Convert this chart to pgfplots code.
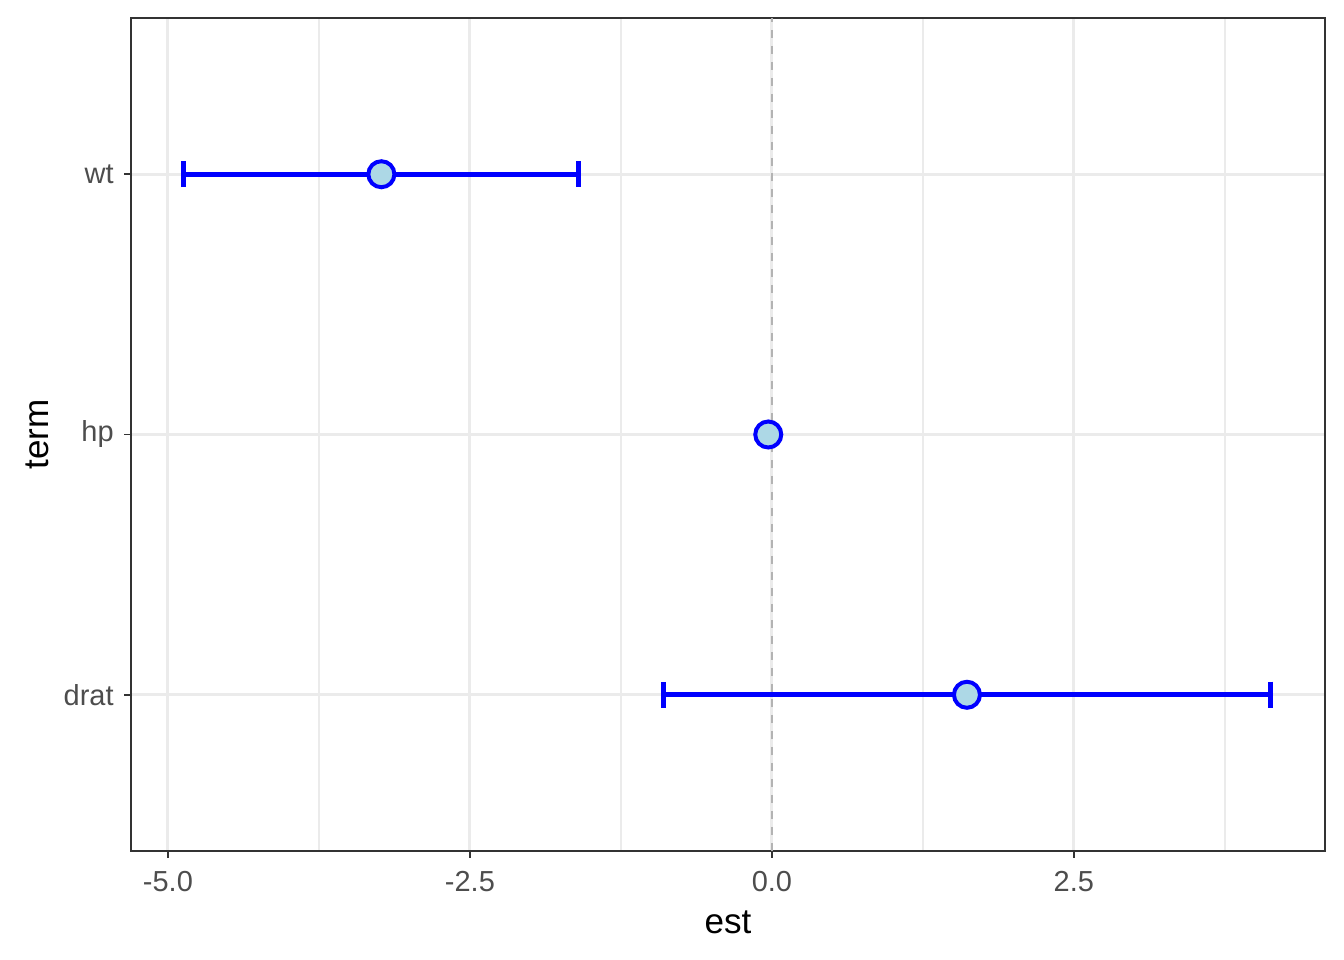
\documentclass[border=0pt]{standalone}
\usepackage{pgfplots}
\usepackage{pgfplotstable}
\pgfplotsset{compat=1.18}
\usepackage{fontspec}
\setmainfont{Liberation Sans}

\definecolor{ptfill}{HTML}{ADD8E6}
\definecolor{ptline}{HTML}{0000FF}
\definecolor{gridc}{HTML}{EBEBEB}
\definecolor{grey20}{HTML}{333333}
\definecolor{grey30}{HTML}{4D4D4D}
\definecolor{zeroc}{HTML}{B3B3B3}

% term estimates with 95% intervals (y: 1 = drat, 2 = hp, 3 = wt)
\pgfplotstableread{
x      y  err
-3.233 3  1.635
-0.030 2  0.010
 1.615 1  2.516
}\coefs

\begin{document}
\begin{tikzpicture}
\begin{axis}[
    scale only axis,
    width=449.4pt, height=313.5pt,
    xmin=-5.306, xmax=4.578,
    ymin=0.4, ymax=3.6,
    xtick={-5,-2.5,0,2.5},
    xticklabels={-5.0,-2.5,0.0,2.5},
    minor xtick={-3.75,-1.25,1.25,3.75},
    ytick={1,2,3},
    yticklabels={drat,hp,wt},
    grid=both,
    major grid style={gridc, line width=1.1pt},
    minor grid style={gridc, line width=0.55pt},
    axis line style={grey20, line width=0.75pt},
    tick align=outside,
    major tick length=2.6pt,
    minor tick length=0pt,
    tick style={grey20, line width=0.75pt},
    xtick pos=bottom, ytick pos=left,
    ticklabel style={font=\fontsize{10.9}{12}\selectfont, text=grey30},
    xticklabel style={yshift=-1.5pt},
    yticklabel style={xshift=-0.4pt},
    xlabel={est}, ylabel={term},
    label style={font=\fontsize{13.2}{15}\selectfont, text=black},
    xlabel style={at={(axis description cs:0.5,-0.0852)}, anchor=center},
    ylabel style={at={(axis description cs:-0.0787,0.5)}, anchor=center, rotate=0},
    clip=false,
]
\addplot[zeroc, line width=0.75pt, dash pattern=on 3pt off 3pt] coordinates {(0,0.4) (0,3.6)};

\addplot[ptline, only marks, mark=none,
    error bars/.cd, x dir=both, x explicit, error mark=|,
    error bar style={ptline, line width=1.9pt, solid},
    error mark options={ptline, line width=1.9pt, mark size=4.9pt}]
    table[x=x, y=y, x error=err] {\coefs};

\addplot[only marks, mark=*, mark size=4.9pt,
    mark options={draw=ptline, fill=ptfill, line width=1.5pt}]
    table[x=x, y=y] {\coefs};
\end{axis}
\pgfresetboundingbox
\path (-49.3pt,-41.0pt) rectangle (456.6pt,320.3pt);
\end{tikzpicture}
\end{document}
